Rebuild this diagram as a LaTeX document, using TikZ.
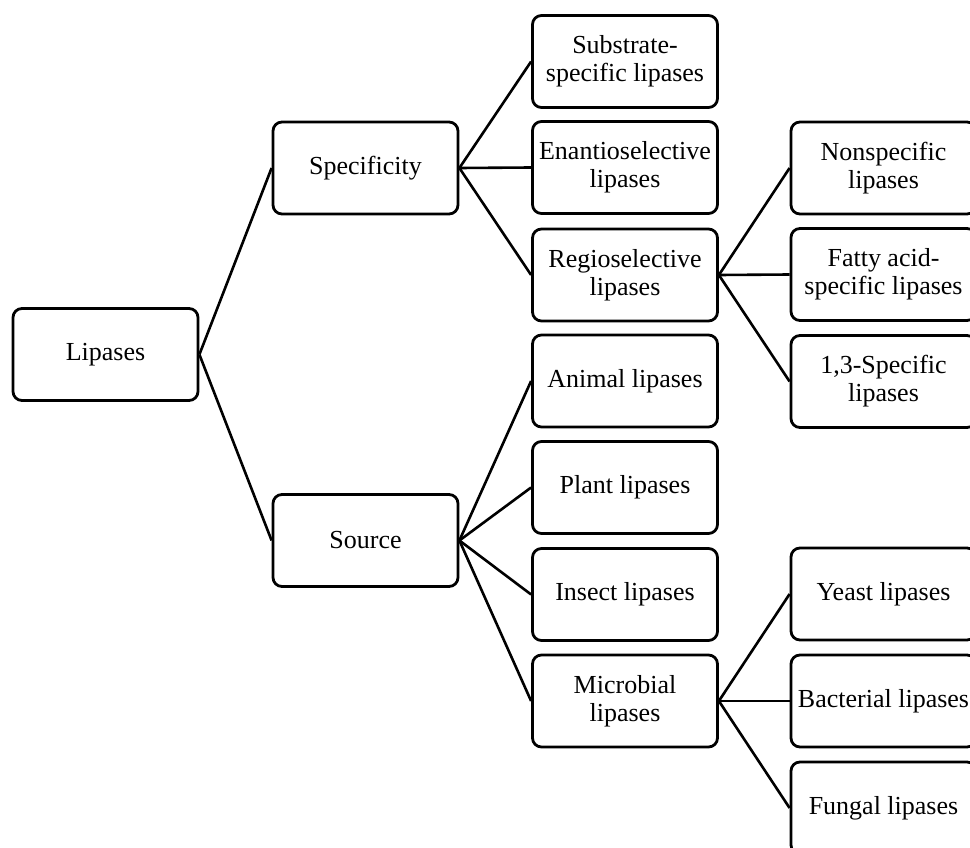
\documentclass[tikz,border=0pt]{standalone}
\usepackage{fontspec}
\setmainfont{Liberation Serif}
\begin{document}
\begin{tikzpicture}[x=1pt,y=-1pt,
  box/.style={draw=black, line width=2.8pt, rounded corners=9pt, minimum width=185pt, minimum height=92pt, inner sep=2pt, align=center, font=\fontsize{26}{28}\selectfont},
  conn/.style={draw=black, line width=2.6pt}]
\useasboundingbox (0,0) rectangle (970,848);
\clip (0,0) rectangle (970,848);
\node[box] (lip) at (105.5,354.5) {Lipases};
\node[box] (spec) at (365.5,168) {Specificity};
\node[box] (src) at (365.5,540.5) {Source};
\node[box] (sub) at (625,61.5) {Substrate-\\specific lipases};
\node[box] (ena) at (625,167.5) {Enantioselective\\lipases};
\node[box] (reg) at (625,275) {Regioselective\\lipases};
\node[box] (ani) at (625,381) {Animal lipases};
\node[box] (pla) at (625,487.5) {Plant lipases};
\node[box] (ins) at (625,594.5) {Insect lipases};
\node[box] (mic) at (625,701) {Microbial\\lipases};
\node[box] (non) at (883.5,168) {Nonspecific\\lipases};
\node[box] (fat) at (883.5,274.5) {Fatty acid-\\specific lipases};
\node[box] (one) at (883.5,381.5) {1,3-Specific\\lipases};
\node[box] (yea) at (883.5,594) {Yeast lipases};
\node[box] (bac) at (883.5,701) {Bacterial lipases};
\node[box] (fun) at (883.5,808) {Fungal lipases};
\foreach \a/\b in {lip/spec, lip/src, spec/sub, spec/ena, spec/reg, reg/non, reg/fat, reg/one, src/ani, src/pla, src/ins, src/mic, mic/yea, mic/bac, mic/fun}
  \draw[conn] (\a.east) -- (\b.west);
\end{tikzpicture}
\end{document}
